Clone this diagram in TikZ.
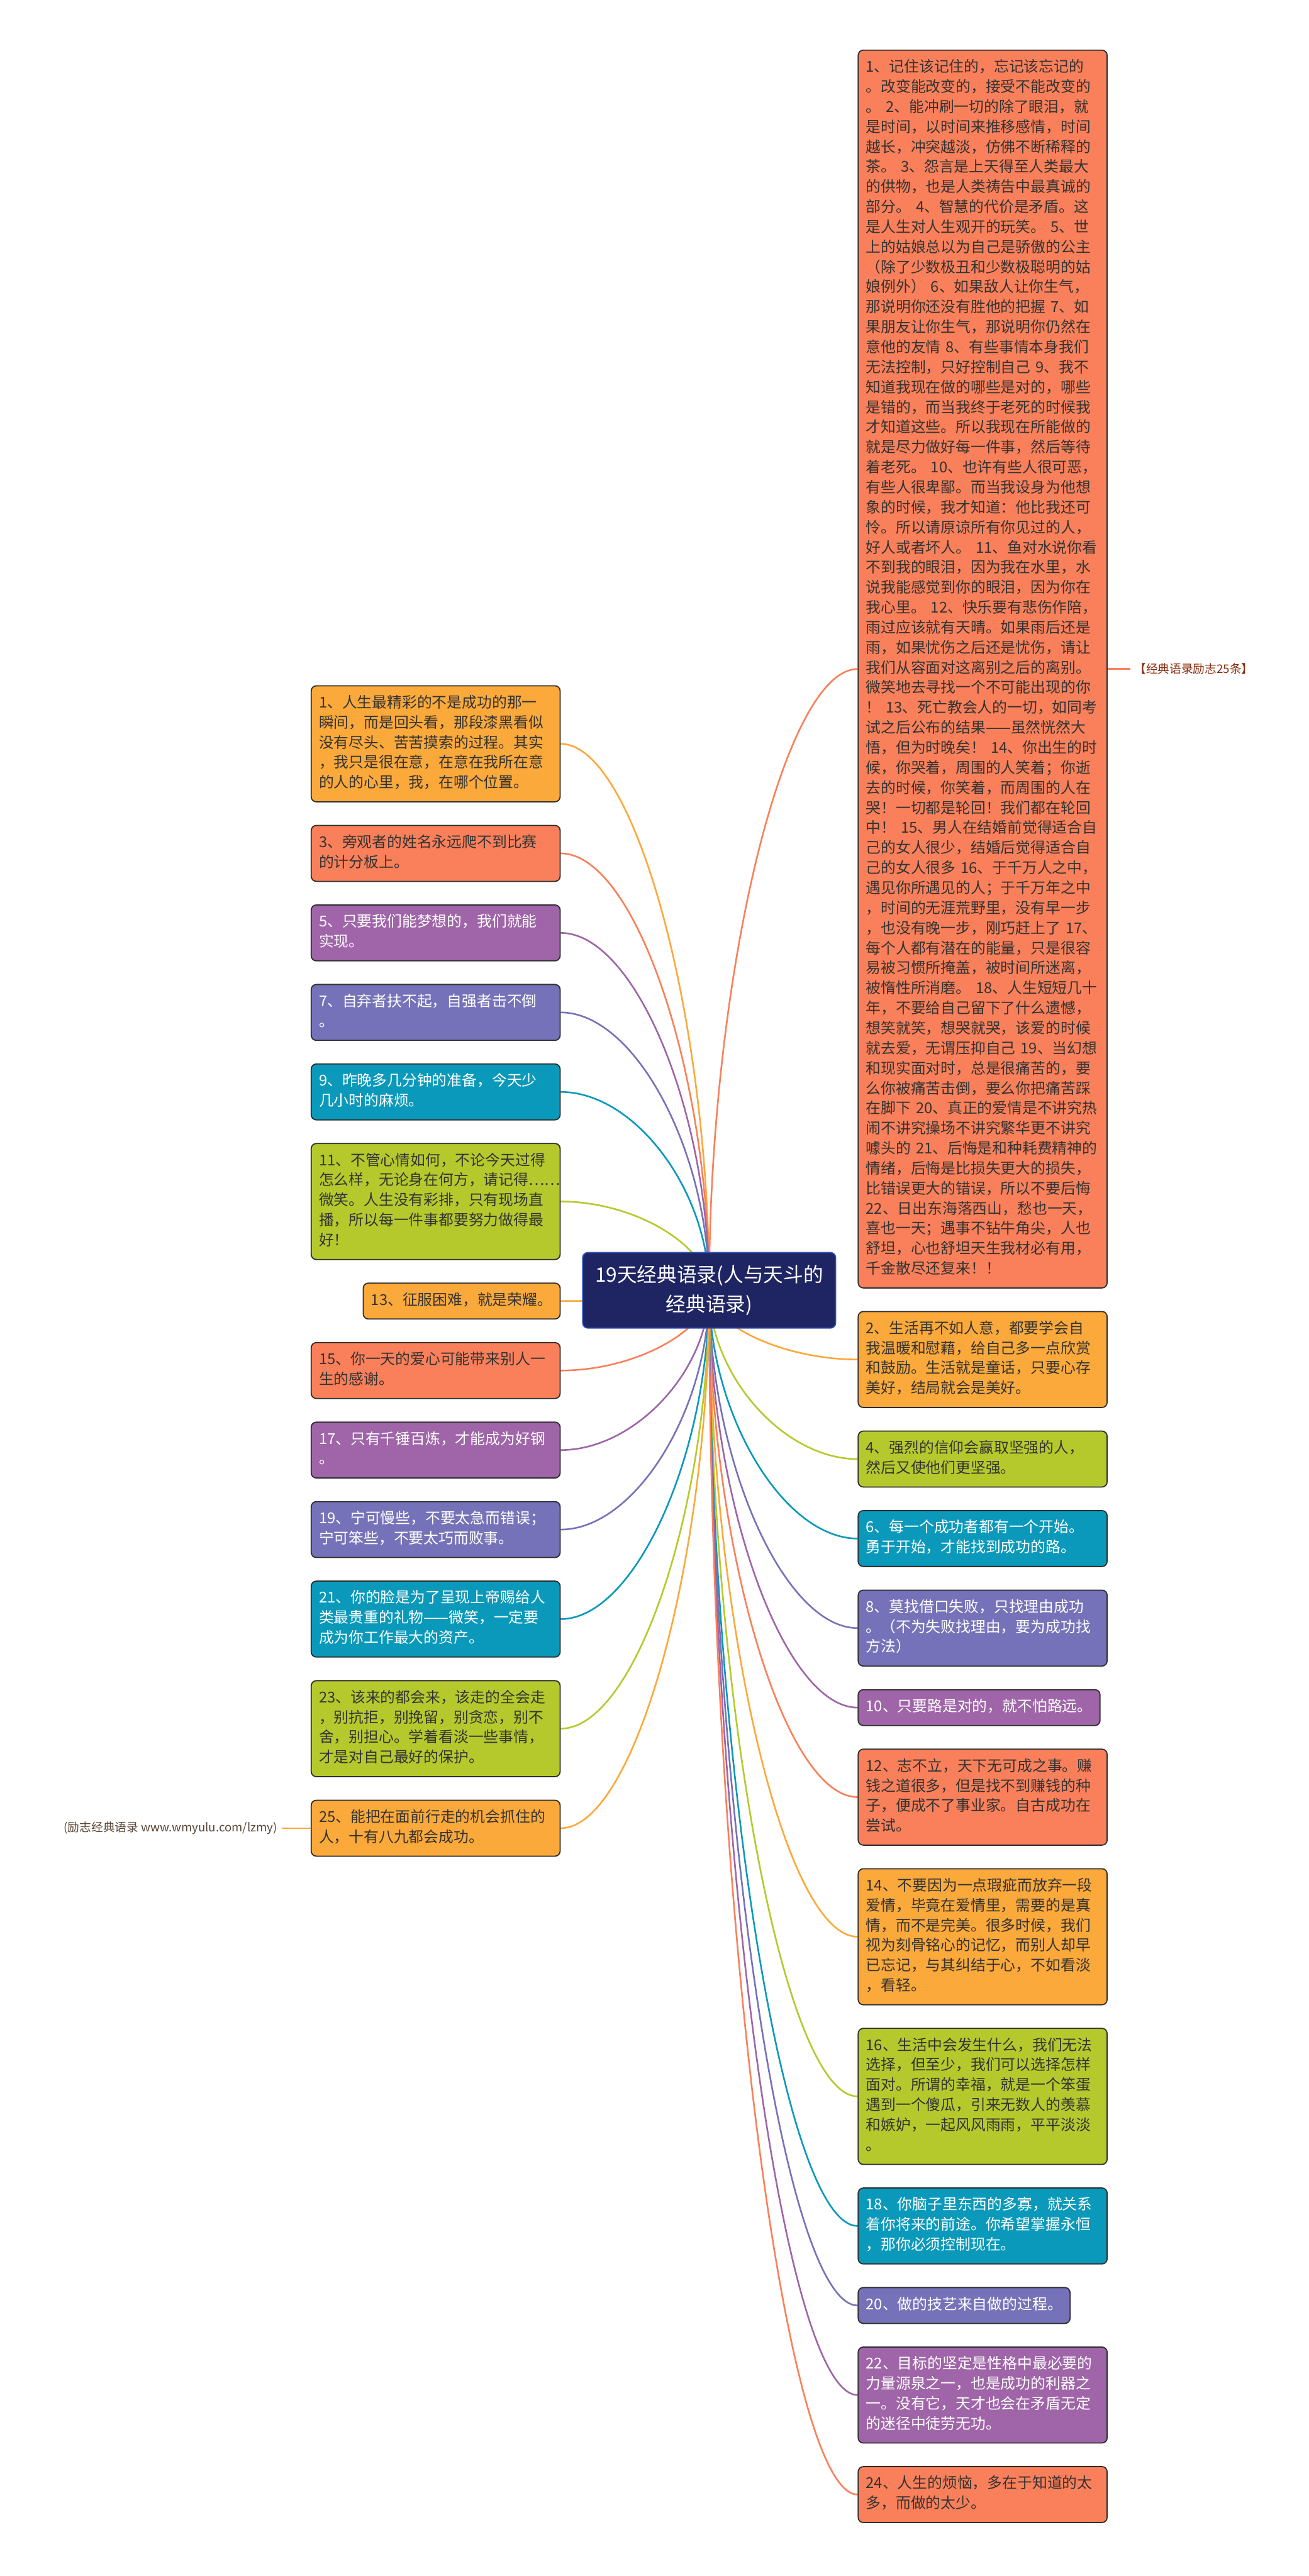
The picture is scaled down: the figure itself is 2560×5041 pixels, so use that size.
\documentclass[tikz,border=0pt]{standalone}
\usepackage{fontspec}
\setmainfont{Noto Sans CJK SC}
\usetikzlibrary{positioning,calc,backgrounds}
\definecolor{cOrange}{HTML}{FBA93A}
\definecolor{cCoral}{HTML}{F9805A}
\definecolor{cPurple}{HTML}{9F65A8}
\definecolor{cViolet}{HTML}{7672B9}
\definecolor{cTeal}{HTML}{0A99BA}
\definecolor{cLime}{HTML}{B6C92C}
\definecolor{cNavy}{HTML}{1F2563}
\definecolor{cRim}{HTML}{2F56B8}
\definecolor{cLine}{HTML}{2E2E2E}
\definecolor{cInk}{HTML}{333333}
\definecolor{cTagR}{HTML}{8A2B0E}
\definecolor{cTagL}{HTML}{5A4636}

\begin{document}
\begin{tikzpicture}[x=0.5pt,y=-0.5pt,node distance=22pt,
    box/.style={draw=cLine,line width=1.1pt,rounded corners=5pt,text=cInk,
                font=\fontsize{14.65}{19.6}\selectfont,inner xsep=7.6pt,inner ysep=7.75pt,
                execute at begin node=\strut,execute at end node=\strut},
    wbox/.style={box,text width=228.3pt,align=left},
    hub/.style={fill=cNavy,draw=cRim,line width=1pt,rounded corners=5pt,text=white,
                font=\fontsize{19.5}{28.5}\selectfont,align=center,
                minimum width=247.5pt,minimum height=74pt},
    tagtext/.style={font=\fontsize{11.5}{13}\selectfont,inner sep=4pt},
    link/.style={line width=1.6pt,to path={.. controls
                ($(\tikztostart)!.5!(\tikztostart |- \tikztotarget)$) and
                ($(\tikztotarget)!.5!(\tikztostart |- \tikztotarget)$) .. (\tikztotarget)}}]
    \useasboundingbox (0,0) rectangle (2560,5041);

    \node[hub] (root) at (1387.5,2525) {19天经典语录(人与天斗的\\经典语录)};

    \node[wbox,fill=cCoral,anchor=north west] (big) at (1678,97) {1、记住该记住的，忘记该忘记的\\。改变能改变的，接受不能改变的\\。 2、能冲刷一切的除了眼泪，就\\是时间，以时间来推移感情，时间\\越长，冲突越淡，仿佛不断稀释的\\茶。 3、怨言是上天得至人类最大\\的供物，也是人类祷告中最真诚的\\部分。 4、智慧的代价是矛盾。这\\是人生对人生观开的玩笑。 5、世\\上的姑娘总以为自己是骄傲的公主\\（除了少数极丑和少数极聪明的姑\\娘例外） 6、如果敌人让你生气，\\那说明你还没有胜他的把握 7、如\\果朋友让你生气，那说明你仍然在\\意他的友情 8、有些事情本身我们\\无法控制，只好控制自己 9、我不\\知道我现在做的哪些是对的，哪些\\是错的，而当我终于老死的时候我\\才知道这些。所以我现在所能做的\\就是尽力做好每一件事，然后等待\\着老死。 10、也许有些人很可恶，\\有些人很卑鄙。而当我设身为他想\\象的时候，我才知道：他比我还可\\怜。所以请原谅所有你见过的人，\\好人或者坏人。 11、鱼对水说你看\\不到我的眼泪，因为我在水里，水\\说我能感觉到你的眼泪，因为你在\\我心里。 12、快乐要有悲伤作陪，\\雨过应该就有天晴。如果雨后还是\\雨，如果忧伤之后还是忧伤，请让\\我们从容面对这离别之后的离别。\\微笑地去寻找一个不可能出现的你\\！ 13、死亡教会人的一切，如同考\\试之后公布的结果——虽然恍然大\\悟，但为时晚矣！ 14、你出生的时\\候，你哭着，周围的人笑着；你逝\\去的时候，你笑着，而周围的人在\\哭！一切都是轮回！我们都在轮回\\中！ 15、男人在结婚前觉得适合自\\己的女人很少，结婚后觉得适合自\\己的女人很多 16、于千万人之中，\\遇见你所遇见的人；于千万年之中\\，时间的无涯荒野里，没有早一步\\，也没有晚一步，刚巧赶上了 17、\\每个人都有潜在的能量，只是很容\\易被习惯所掩盖，被时间所迷离，\\被惰性所消磨。 18、人生短短几十\\年，不要给自己留下了什么遗憾，\\想笑就笑，想哭就哭，该爱的时候\\就去爱，无谓压抑自己 19、当幻想\\和现实面对时，总是很痛苦的，要\\么你被痛苦击倒，要么你把痛苦踩\\在脚下 20、真正的爱情是不讲究热\\闹不讲究操场不讲究繁华更不讲究\\噱头的 21、后悔是和种耗费精神的\\情绪，后悔是比损失更大的损失，\\比错误更大的错误，所以不要后悔\\22、日出东海落西山，愁也一天，\\喜也一天；遇事不钻牛角尖，人也\\舒坦，心也舒坦天生我材必有用，\\千金散尽还复来！！};
    \node[wbox,fill=cOrange,below=of big.south west,anchor=north west] (r2) {2、生活再不如人意，都要学会自\\我温暖和慰藉，给自己多一点欣赏\\和鼓励。生活就是童话，只要心存\\美好，结局就会是美好。};
    \node[wbox,fill=cLime,below=of r2.south west,anchor=north west] (r4) {4、强烈的信仰会赢取坚强的人，\\然后又使他们更坚强。};
    \node[wbox,fill=cTeal,text=white,below=of r4.south west,anchor=north west] (r6) {6、每一个成功者都有一个开始。\\勇于开始，才能找到成功的路。};
    \node[wbox,fill=cViolet,text=white,below=of r6.south west,anchor=north west] (r8) {8、莫找借口失败，只找理由成功\\。（不为失败找理由，要为成功找\\方法）};
    \node[box,fill=cPurple,text=white,below=of r8.south west,anchor=north west] (r10) {10、只要路是对的，就不怕路远。};
    \node[wbox,fill=cCoral,below=of r10.south west,anchor=north west] (r12) {12、志不立，天下无可成之事。赚\\钱之道很多，但是找不到赚钱的种\\子，便成不了事业家。自古成功在\\尝试。};
    \node[wbox,fill=cOrange,below=of r12.south west,anchor=north west] (r14) {14、不要因为一点瑕疵而放弃一段\\爱情，毕竟在爱情里，需要的是真\\情，而不是完美。很多时候，我们\\视为刻骨铭心的记忆，而别人却早\\已忘记，与其纠结于心，不如看淡\\，看轻。};
    \node[wbox,fill=cLime,below=of r14.south west,anchor=north west] (r16) {16、生活中会发生什么，我们无法\\选择，但至少，我们可以选择怎样\\面对。所谓的幸福，就是一个笨蛋\\遇到一个傻瓜，引来无数人的羡慕\\和嫉妒，一起风风雨雨，平平淡淡\\。};
    \node[wbox,fill=cTeal,text=white,below=of r16.south west,anchor=north west] (r18) {18、你脑子里东西的多寡，就关系\\着你将来的前途。你希望掌握永恒\\，那你必须控制现在。};
    \node[box,fill=cViolet,text=white,below=of r18.south west,anchor=north west] (r20) {20、做的技艺来自做的过程。};
    \node[wbox,fill=cPurple,text=white,below=of r20.south west,anchor=north west] (r22) {22、目标的坚定是性格中最必要的\\力量源泉之一，也是成功的利器之\\一。没有它，天才也会在矛盾无定\\的迷径中徒劳无功。};
    \node[wbox,fill=cCoral,below=of r22.south west,anchor=north west] (r24) {24、人生的烦恼，多在于知道的太\\多，而做的太少。};

    \node[wbox,fill=cOrange,anchor=north east] (l1) at (1097,1341) {1、人生最精彩的不是成功的那一\\瞬间，而是回头看，那段漆黑看似\\没有尽头、苦苦摸索的过程。其实\\，我只是很在意，在意在我所在意\\的人的心里，我，在哪个位置。};
    \node[wbox,fill=cCoral,below=of l1.south east,anchor=north east] (l3) {3、旁观者的姓名永远爬不到比赛\\的计分板上。};
    \node[wbox,fill=cPurple,text=white,below=of l3.south east,anchor=north east] (l5) {5、只要我们能梦想的，我们就能\\实现。};
    \node[wbox,fill=cViolet,text=white,below=of l5.south east,anchor=north east] (l7) {7、自弃者扶不起，自强者击不倒\\。};
    \node[wbox,fill=cTeal,text=white,below=of l7.south east,anchor=north east] (l9) {9、昨晚多几分钟的准备，今天少\\几小时的麻烦。};
    \node[wbox,fill=cLime,below=of l9.south east,anchor=north east] (l11) {11、不管心情如何，不论今天过得\\怎么样，无论身在何方，请记得……\\微笑。人生没有彩排，只有现场直\\播，所以每一件事都要努力做得最\\好！};
    \node[box,fill=cOrange,below=of l11.south east,anchor=north east] (l13) {13、征服困难，就是荣耀。};
    \node[wbox,fill=cCoral,below=of l13.south east,anchor=north east] (l15) {15、你一天的爱心可能带来别人一\\生的感谢。};
    \node[wbox,fill=cPurple,text=white,below=of l15.south east,anchor=north east] (l17) {17、只有千锤百炼，才能成为好钢\\。};
    \node[wbox,fill=cViolet,text=white,below=of l17.south east,anchor=north east] (l19) {19、宁可慢些，不要太急而错误；\\宁可笨些，不要太巧而败事。};
    \node[wbox,fill=cTeal,text=white,below=of l19.south east,anchor=north east] (l21) {21、你的脸是为了呈现上帝赐给人\\类最贵重的礼物——微笑，一定要\\成为你工作最大的资产。};
    \node[wbox,fill=cLime,below=of l21.south east,anchor=north east] (l23) {23、该来的都会来，该走的全会走\\，别抗拒，别挽留，别贪恋，别不\\舍，别担心。学着看淡一些事情，\\才是对自己最好的保护。};
    \node[wbox,fill=cOrange,below=of l23.south east,anchor=north east] (l25) {25、能把在面前行走的机会抓住的\\人，十有八九都会成功。};

    \node[tagtext,text=cTagR,right=22pt of big] (tagR) {【经典语录励志25条】};
    \node[tagtext,text=cTagL,left=28.5pt of l25] (tagL) {(励志经典语录 www.wmyulu.com/lzmy)};

    \begin{scope}[on background layer]
        \fill[white] (0,0) rectangle (2560,5041);
        \draw[link,cCoral] (root.center) to (big.west);
        \draw[link,cOrange] (root.center) to (r2.west);
        \draw[link,cLime] (root.center) to (r4.west);
        \draw[link,cTeal] (root.center) to (r6.west);
        \draw[link,cViolet] (root.center) to (r8.west);
        \draw[link,cPurple] (root.center) to (r10.west);
        \draw[link,cCoral] (root.center) to (r12.west);
        \draw[link,cOrange] (root.center) to (r14.west);
        \draw[link,cLime] (root.center) to (r16.west);
        \draw[link,cTeal] (root.center) to (r18.west);
        \draw[link,cViolet] (root.center) to (r20.west);
        \draw[link,cPurple] (root.center) to (r22.west);
        \draw[link,cCoral] (root.center) to (r24.west);
        \draw[link,cOrange] (root.center) to (l1.east);
        \draw[link,cCoral] (root.center) to (l3.east);
        \draw[link,cPurple] (root.center) to (l5.east);
        \draw[link,cViolet] (root.center) to (l7.east);
        \draw[link,cTeal] (root.center) to (l9.east);
        \draw[link,cLime] (root.center) to (l11.east);
        \draw[link,cOrange] (root.center) to (l13.east);
        \draw[link,cCoral] (root.center) to (l15.east);
        \draw[link,cPurple] (root.center) to (l17.east);
        \draw[link,cViolet] (root.center) to (l19.east);
        \draw[link,cTeal] (root.center) to (l21.east);
        \draw[link,cLime] (root.center) to (l23.east);
        \draw[link,cOrange] (root.center) to (l25.east);
    \end{scope}
    \draw[line width=1.6pt,cCoral] (big.east) -- (tagR.west);
    \draw[line width=1.6pt,cOrange] (tagL.east) -- (l25.west);
\end{tikzpicture}
\end{document}
